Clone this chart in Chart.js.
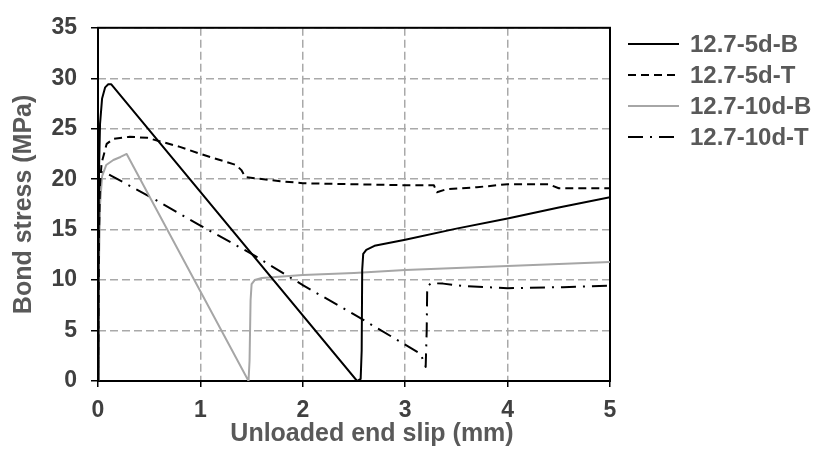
<!DOCTYPE html>
<html>
<head>
<meta charset="utf-8">
<script src="https://cdn.jsdelivr.net/npm/chart.js@4.4.1/dist/chart.umd.min.js"></script>
<style>
  body { margin: 0; background: #fff; }
  #wrap { width: 821px; height: 452px; position: relative; }
</style>
</head>
<body>
<div id="wrap"><canvas id="graph"></canvas></div>
<script>
// values
const seriesNames = ["12.7-5d-B", "12.7-5d-T", "12.7-10d-B", "12.7-10d-T"];

const slip5dB   = [0, 0.005, 0.01, 0.02, 0.04, 0.07, 0.1, 0.13, 2.53, 2.565, 2.575, 2.58, 2.59, 2.62, 2.7, 3.0, 3.5, 4.0, 4.5, 5.0];
const stress5dB = [0, 12, 21, 25.5, 28, 29.1, 29.4, 29.4, 0, 0.2, 3, 11, 12.6, 13.0, 13.4, 14.0, 15.1, 16.1, 17.2, 18.2];

const slip5dT   = [0, 0.005, 0.01, 0.02, 0.035, 0.085, 0.15, 0.31, 0.48, 0.8, 1.0, 1.35, 1.4, 1.44, 1.78, 2.0, 2.5, 3.0, 3.28, 3.31, 3.4, 3.7, 4.0, 4.4, 4.5, 5.0];
const stress5dT = [0, 8, 15, 19.5, 21.6, 23.5, 24.0, 24.2, 24.1, 23.2, 22.5, 21.4, 20.9, 20.2, 19.8, 19.6, 19.5, 19.4, 19.4, 18.7, 19.0, 19.2, 19.5, 19.5, 19.1, 19.1];

const slip10dB   = [0, 0.005, 0.01, 0.02, 0.04, 0.08, 0.15, 0.22, 0.28, 1.47, 1.48, 1.49, 1.5, 1.53, 1.6, 2.0, 2.5, 3.0, 3.5, 4.0, 4.5, 5.0];
const stress10dB = [0, 5, 12, 17.5, 20.3, 21.4, 21.9, 22.2, 22.5, 0, 2, 8, 9.6, 10.0, 10.2, 10.5, 10.7, 11.0, 11.2, 11.4, 11.6, 11.8];

const slip10dT   = [0, 0.005, 0.01, 0.02, 0.04, 0.06, 0.1, 0.5, 1.0, 1.5, 2.0, 2.5, 3.15, 3.2, 3.21, 3.215, 3.25, 3.37, 3.57, 4.0, 4.54, 5.0];
const stress10dT = [0, 8, 15, 19.5, 20.6, 20.8, 20.5, 18.3, 15.4, 12.6, 9.5, 6.6, 2.7, 1.4, 5, 9.3, 9.7, 9.65, 9.4, 9.2, 9.3, 9.45];

const xTicks = [0, 1, 2, 3, 4, 5];
const yTicks = [0, 5, 10, 15, 20, 25, 30, 35];
const xTitle = "Unloaded end slip (mm)";
const yTitle = "Bond stress (MPa)";

const FONT = '"Liberation Sans", Arial, sans-serif';

function pts(xs, ys) {
  return xs.map((x, i) => ({x: x, y: ys[i]}));
}

// box round the plot area
const framePlugin = {
  id: 'frame',
  beforeDatasetsDraw(chart) {
    const a = chart.chartArea;
    const ctx = chart.ctx;
    ctx.save();
    ctx.strokeStyle = '#000';
    ctx.lineWidth = 2;
    ctx.strokeRect(a.left, a.top, a.right - a.left, a.bottom - a.top);
    ctx.restore();
  }
};

// x title sits a little right of centre in the original
const xTitlePlugin = {
  id: 'xTitle',
  afterDraw(chart) {
    const ctx = chart.ctx;
    ctx.save();
    ctx.font = 'bold 25px ' + FONT;
    ctx.fillStyle = '#595959';
    ctx.textAlign = 'center';
    ctx.textBaseline = 'alphabetic';
    ctx.fillText(xTitle, chart.chartArea.left + 274, 441);
    ctx.restore();
  }
};

// legend to the right of the box, using each dataset's own line style
const legendPlugin = {
  id: 'sideLegend',
  afterDraw(chart) {
    const ctx = chart.ctx;
    const x0 = chart.chartArea.right + 18;
    ctx.save();
    chart.data.datasets.forEach((ds, i) => {
      const y = 44 + 31 * i;
      ctx.strokeStyle = ds.borderColor;
      ctx.lineWidth = ds.borderWidth;
      ctx.setLineDash(ds.borderDash || []);
      ctx.beginPath();
      ctx.moveTo(x0, y);
      ctx.lineTo(x0 + 51, y);
      ctx.stroke();
      ctx.setLineDash([]);
      ctx.font = 'bold 24px ' + FONT;
      ctx.fillStyle = '#595959';
      ctx.textAlign = 'left';
      ctx.textBaseline = 'middle';
      ctx.fillText(ds.label, x0 + 62, y + 1);
    });
    ctx.restore();
  }
};

const line = (label, xs, ys, color, dash) => ({
  label: label,
  data: pts(xs, ys),
  borderColor: color,
  backgroundColor: color,
  borderWidth: 2,
  borderDash: dash,
  pointRadius: 0,
  pointHoverRadius: 0,
  tension: 0,
  fill: false,
  borderJoinStyle: 'round'
});

const graph = document.getElementById("graph");
const graphChart = new Chart(graph, {
  type: 'line',
  data: {
    datasets: [
      line(seriesNames[0], slip5dB, stress5dB, '#000000', []),
      line(seriesNames[1], slip5dT, stress5dT, '#000000', [8, 5]),
      line(seriesNames[2], slip10dB, stress10dB, '#A6A6A6', []),
      line(seriesNames[3], slip10dT, stress10dT, '#000000', [15, 7, 2, 7])
    ]
  },
  options: {
    responsive: true,
    maintainAspectRatio: false,
    animation: false,
    layout: { padding: { top: 17, right: 211, left: 0, bottom: 0 } },
    plugins: {
      tooltip: { enabled: false },
      legend: { display: false }
    },
    scales: {
      x: {
        type: 'linear',
        min: 0,
        max: 5,
        afterBuildTicks: s => { s.ticks = xTicks.map(v => ({value: v})); },
        afterFit: s => { s.height = 71; },
        ticks: { color: '#404040', padding: 10, font: { family: FONT, size: 23, weight: 'bold' } },
        grid: { color: '#A9A9A9', lineWidth: 1.5, tickLength: 6, tickColor: '#000', tickWidth: 1.5 },
        border: { display: false, dash: [8, 4] }
      },
      y: {
        min: 0,
        max: 35,
        afterBuildTicks: s => { s.ticks = yTicks.map(v => ({value: v})); },
        afterFit: s => { s.width = 98; },
        ticks: { color: '#404040', padding: 14, font: { family: FONT, size: 23, weight: 'bold' } },
        grid: { color: '#A9A9A9', lineWidth: 1.5, tickLength: 7, tickColor: '#000', tickWidth: 1.5 },
        border: { display: false, dash: [8, 4] },
        title: { display: true, text: yTitle, color: '#595959', padding: { top: 9, bottom: 0 }, font: { family: FONT, size: 25, weight: 'bold' } }
      }
    }
  },
  plugins: [framePlugin, xTitlePlugin, legendPlugin]
});
</script>
</body>
</html>
